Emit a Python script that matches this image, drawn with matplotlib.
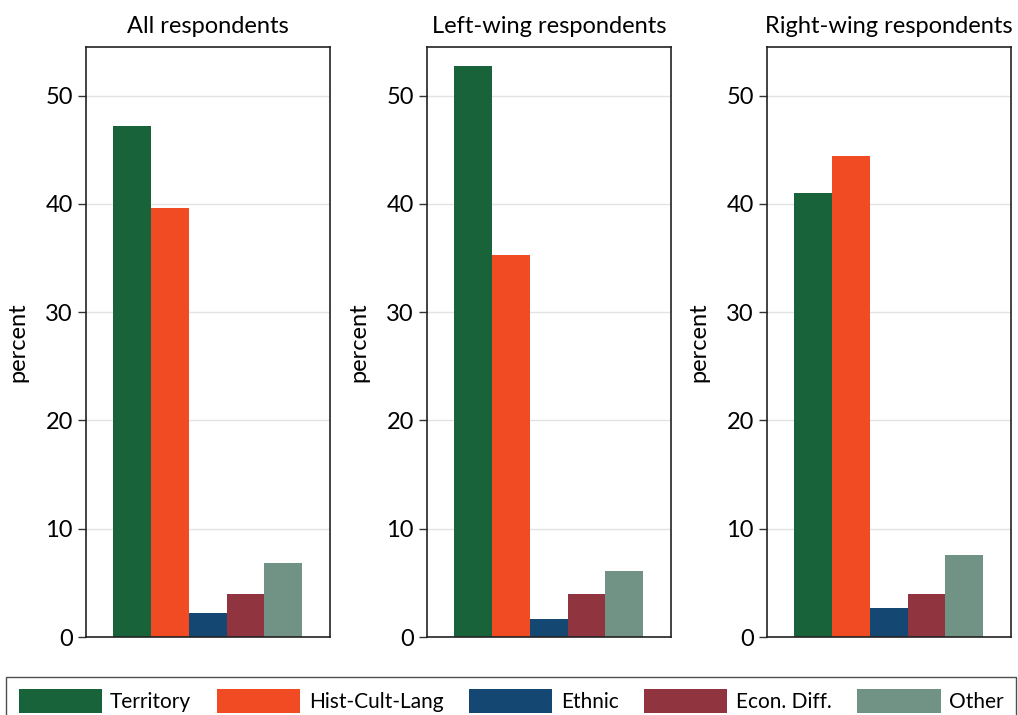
import matplotlib
matplotlib.use("Agg")
import matplotlib.pyplot as plt
from matplotlib.patches import Patch

plt.rcParams["font.family"] = ["Lato", "DejaVu Sans"]

categories = ["Territory", "Hist-Cult-Lang", "Ethnic", "Econ. Diff.", "Other"]
colors = ["#18633a", "#f04b23", "#144872", "#90353f", "#719386"]
titles = ["All respondents", "Left-wing respondents", "Right-wing respondents"]

all_resp = [47.2, 39.6, 2.2, 4.0, 6.8]
left_resp = [52.7, 35.3, 1.7, 4.0, 6.1]
right_resp = [41.0, 44.4, 2.7, 4.0, 7.6]
panels = [all_resp, left_resp, right_resp]

fig = plt.figure(figsize=(10.18, 7.15), dpi=100)
lefts = [86, 427, 767]
for left, title, vals in zip(lefts, titles, panels):
    ax = fig.add_axes([left / 1018, 1 - 637 / 715, 244 / 1018, 590 / 715])
    ax.bar(range(len(vals)), vals, width=1.0, color=colors, zorder=2)
    ax.set_xlim(-1.22, 5.24)
    ax.set_ylim(0, 54.5)
    ax.set_yticks([0, 10, 20, 30, 40, 50])
    ax.set_xticks([])
    ax.grid(axis="y", color="#e3e3e3", linewidth=1, zorder=0)
    ax.tick_params(axis="y", labelsize=17, length=6, width=1, color="#333333")
    ax.set_ylabel("percent", fontsize=17, labelpad=12)
    ax.set_title(title, fontsize=17, pad=10)
    for s in ax.spines.values():
        s.set_color("#222222")
        s.set_linewidth(1.2)

handles = [Patch(facecolor=c, edgecolor="none") for c in colors]
fig.legend(handles, categories, loc="lower left", ncol=5, mode="expand",
           bbox_to_anchor=(6 / 1018, -0.014, 1010 / 1018, 0.07),
           fontsize=15, handlelength=4.0, handleheight=1.35, handletextpad=0.4,
           frameon=True, fancybox=False, edgecolor="#222222",
           borderaxespad=0.0, borderpad=0.6)

fig.savefig("out.png", dpi=100)
